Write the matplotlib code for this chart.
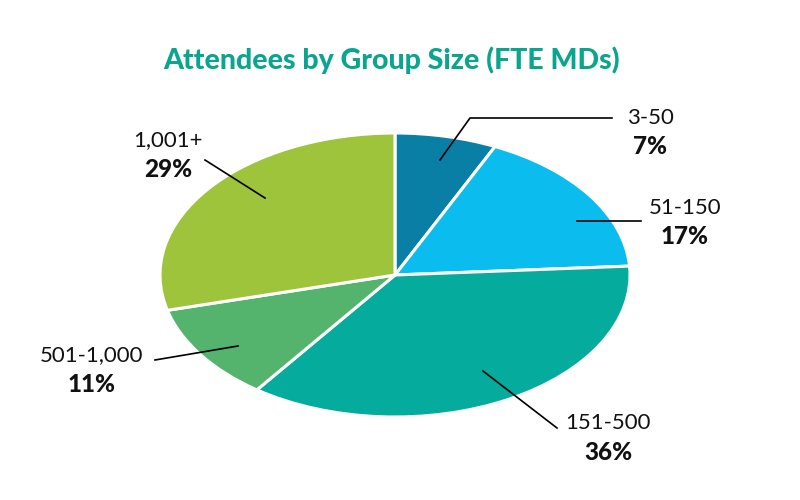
import matplotlib
matplotlib.use("Agg")
import matplotlib.pyplot as plt

# data
groups = ["3-50", "51-150", "151-500", "501-1,000", "1,001+"]
shares = [7, 17, 36, 11, 29]
colors = ["#0A7FA5", "#0ABDEE", "#05AB9C", "#54B46D", "#9DC43B"]

plt.rcParams["font.family"] = ["Lato", "DejaVu Sans"]

fig = plt.figure(figsize=(8, 5), dpi=100)
fig.patch.set_facecolor("white")

# pie axes stretched so the circle becomes the flat ellipse of the original
cx, cy, rx, ry = 395, 275, 235, 142
ax = fig.add_axes([(cx - rx) / 800, (500 - cy - ry) / 500, 2 * rx / 800, 2 * ry / 500])
ax.pie(shares, colors=colors, startangle=90, counterclock=False,
       wedgeprops=dict(edgecolor="white", linewidth=2.2))
ax.set_xlim(-1, 1)
ax.set_ylim(-1, 1)
ax.set_aspect("auto")
ax.axis("off")

fig.text(392 / 800, 1 - 60 / 500, "Attendees by Group Size (FTE MDs)",
         ha="center", va="center", fontsize=20.5, fontweight="black", color="#0AA58E")

# leader lines (start in wedge, end near label) and label positions, figure pixels
lines = [((440, 160), (470, 118), (612, 118)),
         ((577, 221), (641, 221)),
         ((483, 371), (557, 428)),
         ((238, 346), (155, 360)),
         ((265, 198), (205, 160))]
label_pos = [(650, 118), (685, 208), (608, 423), (92, 355), (168, 140)]

for grp, sh, pts, (lx, ly) in zip(groups, shares, lines, label_pos):
    xs = [p[0] / 800 for p in pts]
    ys = [1 - p[1] / 500 for p in pts]
    fig.add_artist(plt.Line2D(xs, ys, color="black", linewidth=1.2))
    fig.text(lx / 800, 1 - ly / 500, grp, ha="center", va="center",
             fontsize=16, fontweight="normal", color="#111111")
    fig.text(lx / 800, 1 - (ly + 29) / 500, f"{sh}%", ha="center", va="center",
             fontsize=17.5, fontweight="black", color="#111111")

fig.savefig("out.png", dpi=100, facecolor="white")
